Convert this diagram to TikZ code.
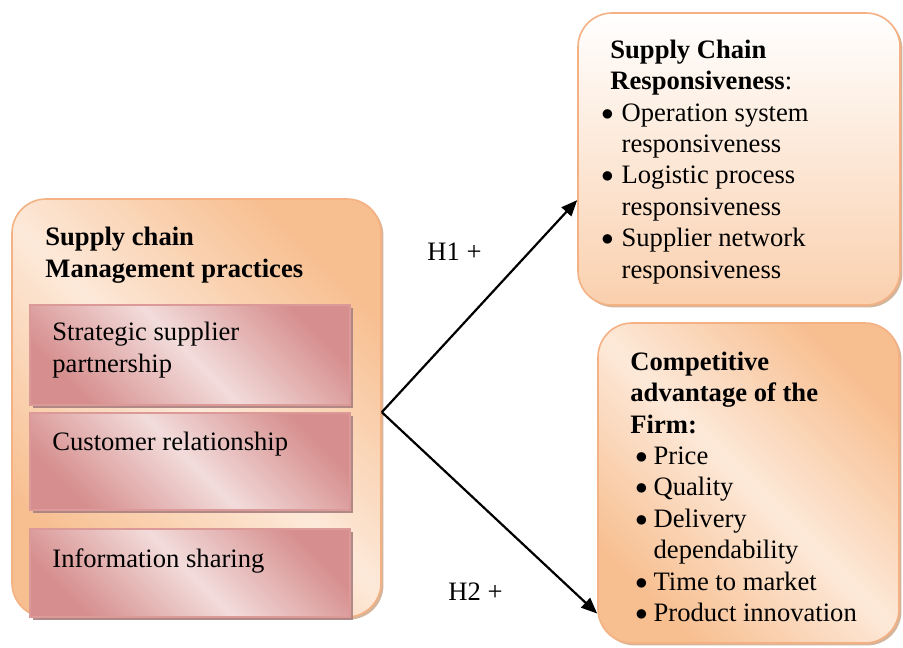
\documentclass[tikz,border=0pt]{standalone}
\usepackage{fontspec}
\setmainfont{Liberation Serif}
\usetikzlibrary{arrows.meta, positioning, calc, shadows, fit}
\definecolor{peachdark}{HTML}{F7BE8F}
\definecolor{peachlight}{HTML}{FDE9D9}
\definecolor{peachline}{HTML}{F4B183}
\definecolor{peachshadow}{HTML}{C9A382}
\definecolor{rosedark}{HTML}{D68F8E}
\definecolor{roselight}{HTML}{F2DCDB}
\definecolor{roseline}{HTML}{DB9A98}
\definecolor{roseshadow}{HTML}{A88080}
\definecolor{respbottom}{HTML}{FAD0AE}
\newcommand{\diagfont}{\fontsize{13.3}{16}\selectfont}
\newcommand{\listfont}{\fontsize{13.3}{15.7}\selectfont}
\newcommand{\bul}{\raisebox{0.5pt}{\scalebox{0.85}{$\bullet$}}}

\begin{document}
\begin{tikzpicture}[x=0.5pt, y=-0.5pt,
  every node/.style={font=\diagfont, inner sep=0pt, align=left},
  boldtext/.style={font=\diagfont\bfseries},
  listtext/.style={font=\listfont},
  peachbox/.style={draw=peachline, line width=0.8pt, rounded corners=17pt,
    left color=peachdark, right color=peachdark, middle color=peachlight, shading angle=-45,
    drop shadow={shadow xshift=1.2pt, shadow yshift=-1.2pt, fill=peachshadow, opacity=0.8}},
  respbox/.style={peachbox, top color=white, bottom color=respbottom},
  rosebox/.style={draw=roseline, line width=0.6pt,
    left color=rosedark, right color=rosedark, middle color=roselight, shading angle=-45,
    drop shadow={shadow xshift=1.4pt, shadow yshift=-1.4pt, fill=roseshadow, opacity=0.9}},
  hypoarrow/.style={line width=1.1pt, -{Triangle[length=8pt, width=6.5pt]}}
]
  \useasboundingbox (0,0) rectangle (903,647);

  % Practices box on the left
  \node[peachbox, fit={(12,199) (381,617)}] (smcp) {};
  \node[boldtext, anchor=north west] (smcptitle) at (45,227) {Supply chain\\Management practices};

  \node[rosebox, fit={(30,305) (350,405)}] (ssp) {};
  \node[anchor=north west] (ssptext) at (52,322) {Strategic supplier\\partnership};
  \node[rosebox, fit={(30,413) (350,510)}] (cr) {};
  \node[anchor=base west] (crtext) at (52,450) {Customer relationship};
  \node[rosebox, fit={(30,529) (350,617)}] (is) {};
  \node[anchor=base west] (istext) at (52,567) {Information sharing};

  % Responsiveness box
  \node[respbox, fit={(578,13) (900,305)}] (resp) {};
  \node[listtext, anchor=north west] (resptext) at (601,36) {%
    \begin{tabular}{@{}l@{\hspace{4pt}}l@{}}
      \multicolumn{2}{@{\hspace{4.5pt}}l}{\bfseries Supply Chain}\\
      \multicolumn{2}{@{\hspace{4.5pt}}l}{\bfseries Responsiveness{\normalfont:}}\\
      \bul & Operation system\\
           & responsiveness\\
      \bul & Logistic process\\
           & responsiveness\\
      \bul & Supplier network\\
           & responsiveness
    \end{tabular}};

  % Competitive advantage box
  \node[peachbox, fit={(598,323) (899,643)}] (comp) {};
  \node[listtext, anchor=north west] (comptext) at (630,348) {%
    \begin{tabular}{@{\hspace{2.5pt}}l@{\hspace{3pt}}l@{}}
      \multicolumn{2}{@{}l}{\bfseries Competitive}\\
      \multicolumn{2}{@{}l}{\bfseries advantage of the}\\
      \multicolumn{2}{@{}l}{\bfseries Firm:}\\
      \bul & Price\\
      \bul & Quality\\
      \bul & Delivery\\
           & dependability\\
      \bul & Time to market\\
      \bul & Product innovation
    \end{tabular}};

  % Hypotheses
  \coordinate (fork) at ($(smcp.south east)!0.49!(smcp.north east)$);
  \draw[hypoarrow] (fork) -- ($(resp.south west)!0.36!(resp.north west)$);
  \draw[hypoarrow] (fork) -- ($(comp.south west)!0.094!(comp.north west)$);
  \node[anchor=base west] (h1) at (427,260) {H1 +};
  \node[anchor=base west] (h2) at (448,600) {H2 +};
\end{tikzpicture}
\end{document}
